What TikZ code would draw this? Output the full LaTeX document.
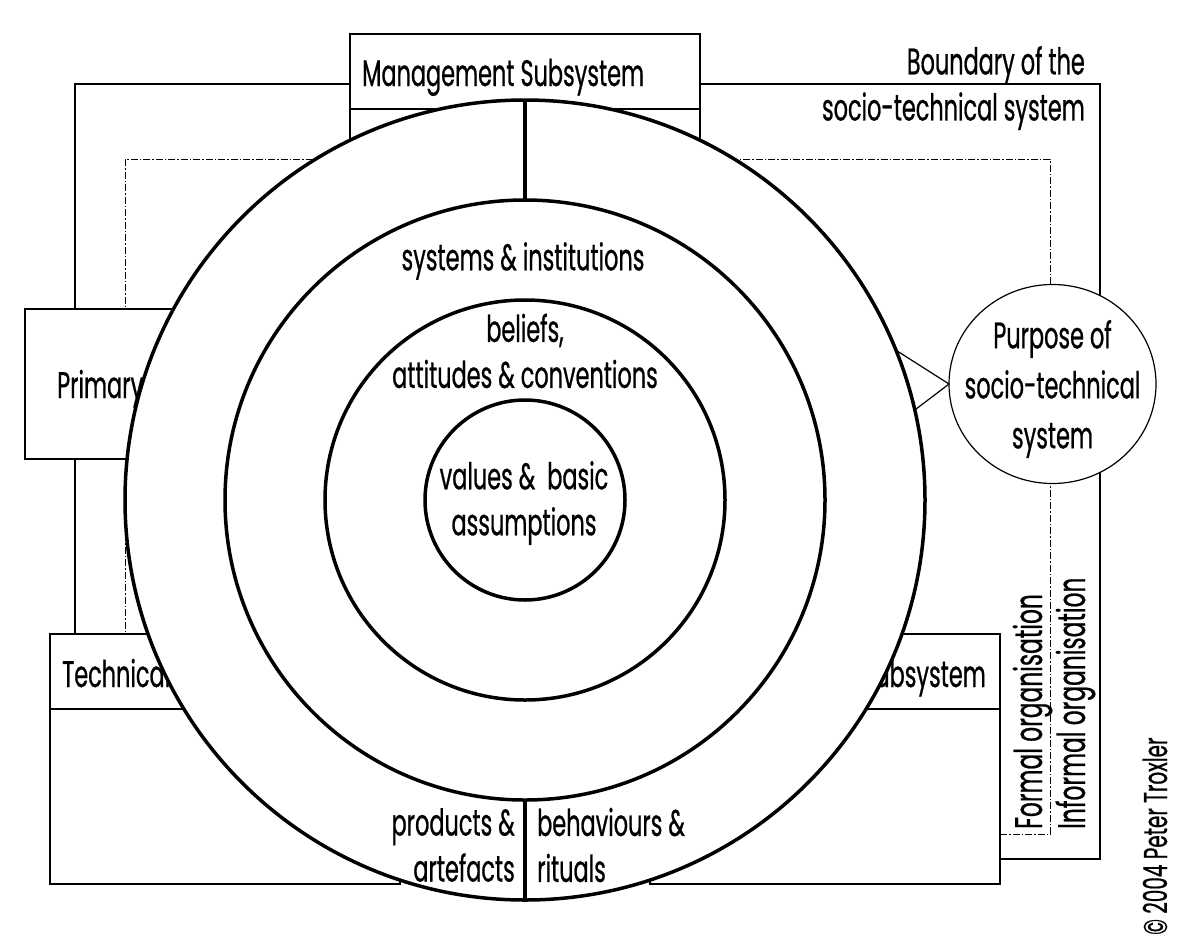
\documentclass[tikz,border=0pt]{standalone}
\usepackage{fontspec}
\setmainfont[FakeStretch=0.605,FakeBold=0.6]{Poppins}
\usetikzlibrary{shapes.geometric}
\tikzset{
  sysbox/.style={draw,rectangle,fill=white,line width=1.5pt,inner sep=0pt,outer sep=0pt},
  orgline/.style={draw,rectangle,line width=1.5pt,inner sep=0pt},
  ring/.style={draw,circle,fill=white,line width=3.5pt,line join=round,inner sep=0pt,outer sep=0pt},
  label/.style={font=\fontsize{37}{46}\selectfont,align=center,inner sep=0pt},
}
\begin{document}
\begin{tikzpicture}[x=1pt,y=-1pt]
\useasboundingbox (0,0) rectangle (1180,943);
\node[orgline,minimum width=1025pt,minimum height=775pt] (Boundary) at (587.5,471.5) {};
\node[orgline,line width=1pt,dash pattern=on 7pt off 2pt on 1.5pt off 2pt,minimum width=925pt,minimum height=675pt] (Informal) at (587.5,496.5) {};
\node[sysbox,minimum width=350pt,minimum height=75pt] (MgmtHead) at (525,71.5) {};
\node[sysbox,minimum width=350pt,minimum height=175pt] (MgmtBody) at (525,196.5) {};
\node[sysbox,minimum width=300pt,minimum height=150pt] (PrimaryBox) at (175,384) {};
\node[sysbox,minimum width=350pt,minimum height=75pt] (TechHead) at (225,671.5) {};
\node[sysbox,minimum width=350pt,minimum height=175pt] (TechBody) at (225,796.5) {};
\node[sysbox,minimum width=350pt,minimum height=75pt] (SocHead) at (825,671.5) {};
\node[sysbox,minimum width=350pt,minimum height=175pt] (SocBody) at (825,796.5) {};
\node[label,anchor=base west] (MgmtText) at (362,86) {Management Subsystem};
\node[label,anchor=base west] (PrimaryText) at (57,398) {Primary};
\node[label,anchor=base west] (TechText) at (62,687) {Technical};
\node[label,anchor=base east] (SocText) at (986,687) {Subsystem};
\node[ring,minimum size=800pt] (Artefacts) at (525,500) {};
\node[ring,minimum size=600pt] (Systems) at (525,500) {};
\node[ring,minimum size=400pt] (Beliefs) at (525,500) {};
\node[ring,minimum size=200pt] (Values) at (525,500) {};
\draw[line width=3.5pt] (Artefacts.north) -- (Systems.north);
\draw[line width=3.5pt] (Systems.south) -- (Artefacts.south);
\node[draw,ellipse,fill=white,line width=1.2pt,inner sep=0pt,outer sep=0pt,minimum width=207pt,minimum height=199pt] (Purpose) at (1052.5,384) {};
\draw[line width=1.2pt] (Artefacts.22) -- (Purpose.west);
\draw[line width=1.2pt] (Artefacts.13) -- (Purpose.west);
\node[label] (PurposeText) at (1052.5,389) {Purpose of\\[4pt]socio-technical\\[4pt]system};
\node[label,align=right,anchor=north east] (BoundaryText) at (1085,46) {Boundary of the\\socio-technical system};
\node[label] (SystemsText) at (523,261) {systems \& institutions};
\node[label] (BeliefsText) at (525,351) {beliefs,\\attitudes \& conventions};
\node[label] (ValuesText) at (524,503) {values \&\ \ basic\\assumptions};
\node[label,align=right,anchor=east] (ProductsText) at (515,845) {products \&\\artefacts};
\node[label,align=left,anchor=west] (BehavioursText) at (537,845) {behaviours \&\\rituals};
\node[label,font=\fontsize{38.5}{46}\selectfont,rotate=90,anchor=base west] (FormalText) at (1042,829) {Formal organisation};
\node[label,font=\fontsize{38.5}{46}\selectfont,rotate=90,anchor=base west] (InformalText) at (1085,829) {Informal organisation};
\node[label,font=\fontsize{33}{36}\selectfont,rotate=90,anchor=base west] (Copyright) at (1167,935) {\textcopyright\ 2004 Peter Troxler};
\end{tikzpicture}
\end{document}
